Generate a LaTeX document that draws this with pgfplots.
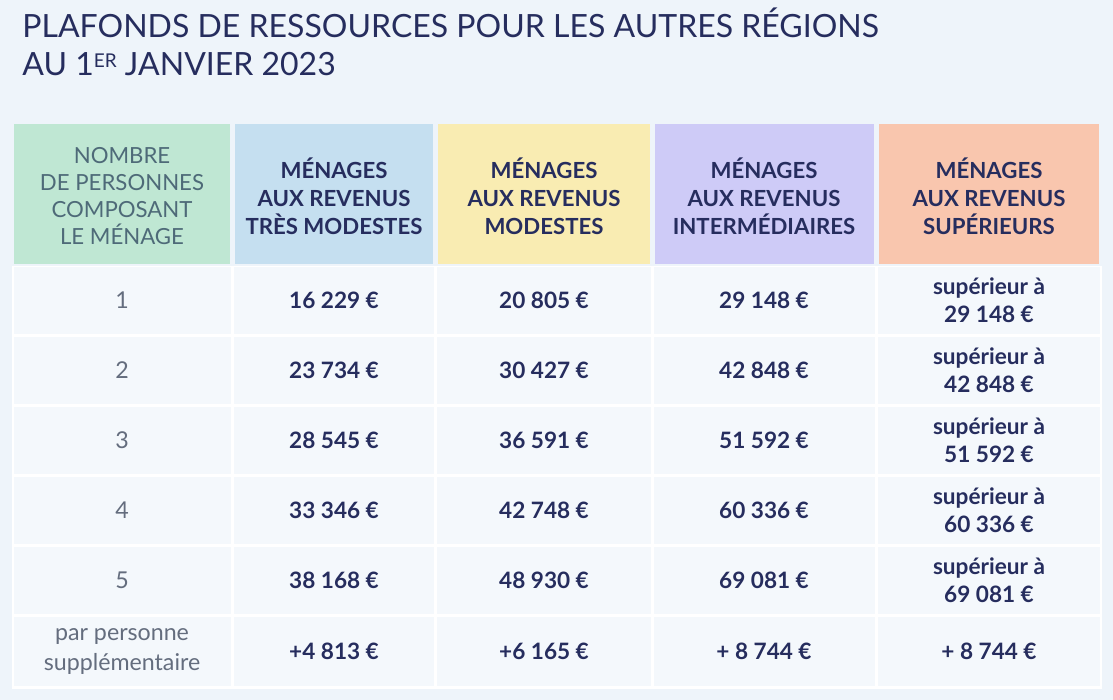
\documentclass[border=0pt]{standalone}
\usepackage{fontspec}
\setmainfont{Lato}
\usepackage{pgfplots}
\pgfplotsset{compat=1.18}
\usepackage{pgfplotstable}

\definecolor{bg}{HTML}{EEF4FA}
\definecolor{cellbg}{HTML}{F4F8FC}
\definecolor{navy}{HTML}{262D5E}
\definecolor{grey}{HTML}{646D7E}
\definecolor{hgreen}{HTML}{BFE7D3}
\definecolor{hblue}{HTML}{C5DFF0}
\definecolor{hyellow}{HTML}{F9ECB2}
\definecolor{hlilac}{HTML}{CECBF7}
\definecolor{hsalmon}{HTML}{F9C6AE}
\definecolor{hgreentxt}{HTML}{4E6A78}

% x = column centre, y = line centre (pixel units, y down)
\pgfplotstableread[col sep=semicolon]{
x;y;t
122;300;1
122;370;2
122;440;3
122;510;4
122;580;5
122;637;par personne
122;664;supplémentaire
}\rowlabels

\pgfplotstableread[col sep=semicolon]{
x;y;t
334;300;16 229 €
544;300;20 805 €
764;300;29 148 €
989;288;supérieur à
989;314;29 148 €
334;370;23 734 €
544;370;30 427 €
764;370;42 848 €
989;358;supérieur à
989;384;42 848 €
334;440;28 545 €
544;440;36 591 €
764;440;51 592 €
989;428;supérieur à
989;454;51 592 €
334;510;33 346 €
544;510;42 748 €
764;510;60 336 €
989;498;supérieur à
989;524;60 336 €
334;580;38 168 €
544;580;48 930 €
764;580;69 081 €
989;568;supérieur à
989;594;69 081 €
334;651;+4 813 €
544;651;+6 165 €
764;651;+ 8 744 €
989;651;+ 8 744 €
}\values

\newcommand\cell[5]{\addplot[fill=#5,draw=none] coordinates {(#1,#2)(#3,#2)(#3,#4)(#1,#4)} -- cycle;}

\begin{document}
\begin{tikzpicture}
\begin{axis}[
    width=556.5pt, height=350pt, scale only axis,
    xmin=0, xmax=1113, ymin=0, ymax=700, y dir=reverse,
    axis lines=none, clip=false,
]
% background
\cell{0}{0}{1113}{700}{bg}
% header cells
\cell{14}{124}{230}{264}{hgreen}
\cell{235}{124}{433}{264}{hblue}
\cell{438}{124}{650}{264}{hyellow}
\cell{655}{124}{874}{264}{hlilac}
\cell{879}{124}{1099}{264}{hsalmon}
% body panel and cells
\cell{12}{266}{1102}{689}{white}
\foreach \ya/\yb in {267/334,337/404,407/474,477/544,547/614,617/686}{
  \foreach \xa/\xb in {14/231,234/434,437/651,654/875,878/1100}{
    \edef\tmp{\noexpand\cell{\xa}{\ya}{\xb}{\yb}{cellbg}}\tmp
  }
}
% header text
\node[align=center, font=\fontsize{11.1}{13.6}\selectfont, text=hgreentxt]
  at (axis cs:122,196) {NOMBRE\\DE PERSONNES\\COMPOSANT\\LE MÉNAGE};
\node[align=center, font=\bfseries\fontsize{11.1}{14}\selectfont, text=navy]
  at (axis cs:334,196) {MÉNAGES\\AUX REVENUS\\TRÈS MODESTES};
\node[align=center, font=\bfseries\fontsize{11.1}{14}\selectfont, text=navy]
  at (axis cs:544,196) {MÉNAGES\\AUX REVENUS\\MODESTES};
\node[align=center, font=\bfseries\fontsize{11.1}{14}\selectfont, text=navy]
  at (axis cs:764,196) {MÉNAGES\\AUX REVENUS\\INTERMÉDIAIRES};
\node[align=center, font=\bfseries\fontsize{11.1}{14}\selectfont, text=navy]
  at (axis cs:989,196) {MÉNAGES\\AUX REVENUS\\SUPÉRIEURS};
% title
\node[anchor=base west, inner sep=0pt, text=navy, font=\fontsize{16}{19}\selectfont]
  at (axis cs:22,38) {PLAFONDS DE RESSOURCES POUR LES AUTRES RÉGIONS};
\node[anchor=base west, inner sep=0pt, text=navy, font=\fontsize{16}{19}\selectfont]
  at (axis cs:22,76) {AU 1\raisebox{4.3pt}{\fontsize{9.5}{10}\selectfont ER} JANVIER 2023};
% body text
\addplot[only marks, mark=*, mark size=0pt, mark options={draw=none,fill=none},
  point meta=explicit symbolic, nodes near coords,
  nodes near coords style={anchor=center, inner sep=0pt, text=grey,
    font=\fontsize{11.6}{12}\selectfont}]
  table[x=x, y=y, meta=t] {\rowlabels};
\addplot[only marks, mark=*, mark size=0pt, mark options={draw=none,fill=none},
  point meta=explicit symbolic, nodes near coords,
  nodes near coords style={anchor=center, inner sep=0pt, text=navy,
    font=\bfseries\fontsize{11.3}{12}\selectfont}]
  table[x=x, y=y, meta=t] {\values};
\end{axis}
\end{tikzpicture}
\end{document}
